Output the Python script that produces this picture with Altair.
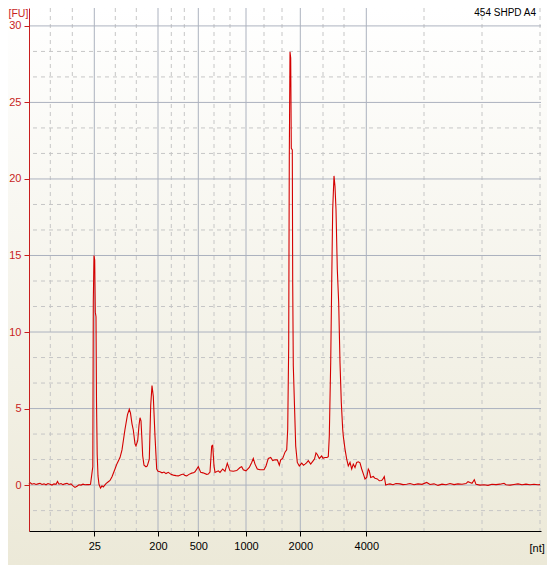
import altair as alt
import pandas as pd

# ---- trace: migration time (s) and fluorescence (FU) ----
time_s = [18.0, 18.1, 18.3, 18.5, 18.7, 18.9, 19.1, 19.3, 19.5, 19.7, 19.9, 20.1, 20.3, 20.5, 20.7,
          20.85, 21.0, 21.2, 21.4, 21.6, 21.8, 22.0, 22.2, 22.4, 22.6, 22.8, 23.0, 23.2, 23.4, 23.6,
          23.8, 24.0, 24.15, 24.3, 24.38, 24.43, 24.5, 24.57, 24.63, 24.7, 24.75, 24.82, 24.9, 25.0,
          25.15, 25.3, 25.43, 25.7, 25.9, 26.1, 26.3, 26.6, 26.8, 27.1, 27.3, 27.6, 27.85, 28.03,
          28.15, 28.3, 28.43, 28.6, 28.7, 28.87, 29.0, 29.1, 29.2, 29.3, 29.37, 29.5, 29.7, 29.83,
          30.03, 30.17, 30.3, 30.43, 30.6, 30.77, 30.9, 31.1, 31.3, 31.5, 31.7, 31.93, 32.2, 32.43,
          32.7, 32.93, 33.2, 33.43, 33.6, 33.77, 34.0, 34.27, 34.45, 34.6, 34.93, 35.17, 35.4, 35.77,
          35.93, 36.1, 36.27, 36.37, 36.5, 36.6, 36.93, 37.1, 37.37, 37.6, 37.83, 38.1, 38.43, 38.77,
          39.1, 39.27, 39.43, 39.7, 40.03, 40.27, 40.43, 40.6, 40.83, 41.1, 41.5, 41.7, 41.93, 42.17,
          42.37, 42.6, 42.83, 43.03, 43.17, 43.37, 43.6, 43.77, 43.87, 43.97, 44.03, 44.1, 44.17,
          44.23, 44.33, 44.37, 44.43, 44.57, 44.67, 44.83, 45.03, 45.27, 45.45, 45.6, 45.75, 45.93,
          46.17, 46.43, 46.55, 46.7, 46.83, 47.03, 47.27, 47.4, 47.6, 47.8, 47.93, 48.03, 48.17,
          48.27, 48.37, 48.5, 48.6, 48.7, 48.83, 48.97, 49.1, 49.23, 49.37, 49.43, 49.6, 49.77,
          49.93, 50.1, 50.27, 50.43, 50.6, 50.77, 50.93, 51.1, 51.27, 51.5, 51.6, 51.77, 51.93,
          52.03, 52.17, 52.43, 52.6, 52.83, 53.03, 53.27, 53.43, 53.53, 53.67, 53.9, 54.1, 54.4,
          54.7, 55.1, 55.4, 55.77, 56.1, 56.5, 56.9, 57.3, 57.77, 58.1, 58.5, 58.9, 59.3, 59.7,
          60.1, 60.5, 60.9, 61.3, 61.7, 61.9, 62.1, 62.3, 62.53, 62.7, 63.1, 63.5, 63.9, 64.3,
          64.7, 65.1, 65.5, 65.7, 66.1, 66.5, 66.9, 67.3, 67.7, 68.1, 68.5, 68.9, 69.1]
fu = [0.05, 0.17, 0.06, 0.1, 0.04, 0.08, 0.12, 0.04, 0.08, 0.02, 0.1, 0.06, 0.0, 0.08, 0.05,
      0.24, 0.06, 0.1, 0.03, 0.08, 0.12, 0.04, 0.08, -0.05, -0.15, -0.08, 0.02, 0.0, 0.06, 0.02,
      0.04, 0.03, 0.05, 0.8, 1.2, 12.0, 15.0, 14.7, 11.3, 11.0, 5.5, 2.0, 0.6, 0.05,
      -0.2, -0.05, -0.12, 0.1, 0.2, 0.3, 0.55, 1.05, 1.4, 1.8, 2.3, 3.65, 4.6, 4.95,
      4.7, 4.0, 3.6, 2.7, 2.55, 2.9, 3.9, 4.4, 4.2, 2.9, 1.9, 1.3, 1.2, 1.25,
      1.7, 5.2, 6.5, 5.8, 3.2, 1.05, 0.9, 0.87, 0.8, 0.85, 0.75, 0.83, 0.7, 0.65,
      0.62, 0.6, 0.68, 0.72, 0.62, 0.6, 0.7, 0.78, 0.8, 0.87, 1.2, 0.83, 0.8, 0.7,
      0.72, 0.85, 2.55, 2.6, 1.25, 0.83, 0.93, 0.83, 1.05, 0.9, 1.43, 0.93, 0.9, 0.95,
      1.15, 1.2, 1.0, 0.93, 1.15, 1.48, 1.74, 1.37, 1.05, 1.0, 1.0, 1.25, 1.74, 1.8,
      1.6, 1.65, 1.65, 1.3, 1.65, 1.74, 2.15, 2.3, 3.65, 9.1, 21.5, 28.3, 27.9,
      22.0, 21.9, 13.2, 7.8, 4.75, 2.55, 1.48, 1.25, 1.43, 1.3, 1.37, 1.45, 1.6,
      1.37, 1.6, 1.7, 2.1, 2.0, 1.74, 1.9, 1.75, 1.8, 1.8, 1.85, 3.2, 8.0,
      13.2, 18.0, 20.2, 19.5, 18.0, 14.1, 11.9, 8.0, 5.4, 3.65, 3.2, 2.35, 1.7,
      1.25, 1.48, 1.05, 1.37, 1.15, 1.48, 1.52, 1.45, 1.05, 0.6, 0.4, 0.5, 1.05,
      0.93, 0.5, 0.56, 0.44, 0.4, 0.28, 0.3, 0.44, 0.55, 0.0, 0.05, 0.08, 0.02,
      0.1, 0.08, 0.03, 0.05, 0.1, 0.02, 0.08, 0.05, 0.17, 0.04, 0.08, -0.02, 0.06, 0.02,
      0.1, 0.03, 0.08, 0.05, 0.1, 0.22, 0.17, 0.12, 0.35, 0.05, 0.0, 0.02, -0.02, 0.05,
      0.03, 0.06, 0.12, 0.02, 0.0, 0.04, 0.08, 0.02, 0.06, 0.02, 0.05, 0.02, 0.03]

# ---- ladder (axis labels) and grid positions ----
ladder_nt = ["25", "200", "500", "1000", "2000", "4000"]
ladder_time = [24.53, 30.9, 34.93, 39.7, 45.13, 51.73]
minor_time = [20.13, 22.33, 26.63, 28.73, 32.23, 33.53, 36.5, 38.1, 41.5, 43.3, 47.4, 49.5,
              57.5, 63.3, 69.1]
fu_major = [0, 5, 10, 15, 20, 25, 30]
fu_minor = [-1.667, 1.667, 3.333, 6.667, 8.333, 11.667, 13.333, 16.667, 18.333, 21.667,
            23.333, 26.667, 28.333]

W, H = 512, 523
FONT = "Liberation Sans"
RED = "#C81E1E"

xs = alt.Scale(domain=[18, 69.2], nice=False, zero=False)
ys = alt.Scale(domain=[-3, 31.17], nice=False, zero=False)

label_expr = "[" + ",".join("'%s'" % s for s in ladder_nt) + "][indexof([" + \
    ",".join(str(t) for t in ladder_time) + "], datum.value)]"

x_axis = alt.Axis(
    values=ladder_time, labelExpr=label_expr, grid=False, zindex=1,
    domainColor="#000000", tickColor="#000000", tickSize=5, labelPadding=4,
    labelColor="#000000", labelFont=FONT, labelFontSize=11, labelFlush=False,
    labelOverlap=False, title="[nt]", titleAlign="left", titleBaseline="top",
    titleX=500, titleY=11, titleFont=FONT, titleFontSize=11, titleFontWeight="normal",
    titleColor="#000000")
y_axis = alt.Axis(
    values=fu_major, grid=False, zindex=1, domainColor=RED, tickColor=RED, tickSize=5,
    labelPadding=3, labelColor=RED, labelFont=FONT, labelFontSize=11,
    title="[FU]", titleAngle=0, titleAlign="left", titleBaseline="top",
    titleX=-21, titleY=0, titleFont=FONT, titleFontSize=10.5, titleFontWeight="normal",
    titleColor=RED)

X = alt.X("time:Q", scale=xs, axis=x_axis)
Y = alt.Y("fu:Q", scale=ys, axis=y_axis)

trace = pd.DataFrame({"time": time_s, "fu": fu})

bg = alt.Chart(pd.DataFrame({"a": [0]})).mark_rect(
    color=alt.Gradient(gradient="linear",
                       stops=[alt.GradientStop(color="#FFFFFF", offset=0),
                              alt.GradientStop(color="#ECE9D8", offset=1)],
                       x1=0, x2=0, y1=0, y2=1)
).encode(x=alt.value(-21), x2=alt.value(W + 6), y=alt.value(0), y2=alt.value(H + 34))

vmin = alt.Chart(pd.DataFrame({"time": minor_time})).mark_rule(
    color="#C6C6C6", strokeWidth=1, strokeDash=[4, 4]).encode(x=X)
hmin = alt.Chart(pd.DataFrame({"fu": fu_minor})).mark_rule(
    color="#C6C6C6", strokeWidth=1, strokeDash=[4, 4]).encode(y=Y)
vmaj = alt.Chart(pd.DataFrame({"time": ladder_time})).mark_rule(
    color="#ACB2BF", strokeWidth=1).encode(x=X)
hmaj = alt.Chart(pd.DataFrame({"fu": fu_major})).mark_rule(
    color="#ACB2BF", strokeWidth=1).encode(y=Y)

line = alt.Chart(trace).mark_line(color="#D40000", strokeWidth=1.1).encode(x=X, y=Y)

label = alt.Chart(pd.DataFrame({"a": [0]})).mark_text(
    align="right", baseline="top", font=FONT, fontSize=10, color="#000000"
).encode(x=alt.value(W - 5), y=alt.value(0), text=alt.value("454 SHPD A4"))

chart = alt.layer(bg, vmin, hmin, vmaj, hmaj, line, label).properties(
    width=W, height=H,
    autosize=alt.AutoSizeParams(type="none"),
    padding={"left": 21, "top": 0, "right": 6, "bottom": 34},
    background="#F6F4EC",
).configure_view(stroke=None)

chart.save("out.html", embed_options={"renderer": "svg", "actions": False})
